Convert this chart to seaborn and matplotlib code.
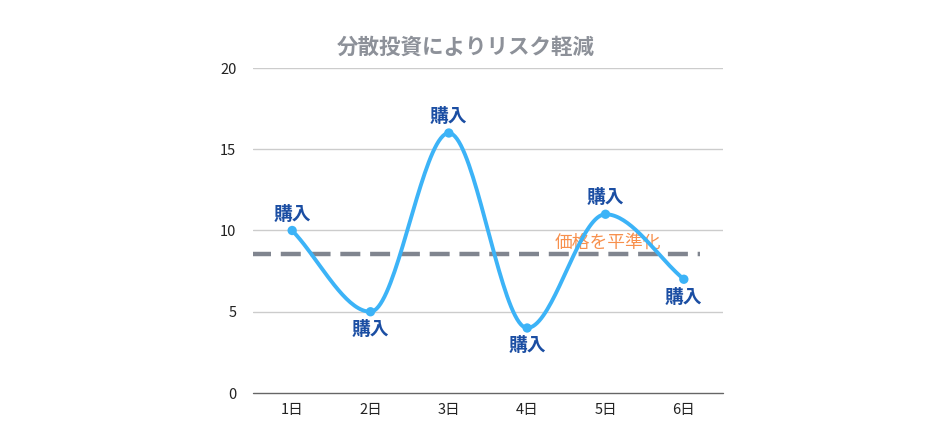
import numpy as np
import matplotlib
matplotlib.use("Agg")
import matplotlib.pyplot as plt
import seaborn as sns

# data
days = ["1日", "2日", "3日", "4日", "5日", "6日"]
prices = [10, 5, 16, 4, 11, 7]
point_labels = ["購入", "購入", "購入", "購入", "購入", "購入"]
label_above = [True, False, True, False, True, False]
avg_level = 8.55
avg_label = "価格を平準化"
title = "分散投資によりリスク軽減"
y_ticks = [0, 5, 10, 15, 20]


def monotone_curve(y, steps=40):
    """Monotone cubic (Fritsch-Carlson) interpolation over category positions."""
    y = np.asarray(y, dtype=float)
    x = np.arange(len(y), dtype=float)
    d = np.diff(y)
    m = np.zeros_like(y)
    m[0], m[-1] = d[0], d[-1]
    for i in range(1, len(y) - 1):
        m[i] = 0.0 if d[i - 1] * d[i] <= 0 else (d[i - 1] + d[i]) / 2
    for i in range(len(d)):
        if d[i] == 0:
            m[i] = m[i + 1] = 0
            continue
        a, b = m[i] / d[i], m[i + 1] / d[i]
        s = a * a + b * b
        if s > 9:
            t = 3 / np.sqrt(s)
            m[i], m[i + 1] = t * a * d[i], t * b * d[i]
    xs, ys = [], []
    for i in range(len(d)):
        t = np.linspace(0, 1, steps)
        h00 = 2 * t**3 - 3 * t**2 + 1
        h10 = t**3 - 2 * t**2 + t
        h01 = -2 * t**3 + 3 * t**2
        h11 = t**3 - t**2
        xs.append(x[i] + t)
        ys.append(h00 * y[i] + h10 * m[i] + h01 * y[i + 1] + h11 * m[i + 1])
    return np.concatenate(xs), np.concatenate(ys)


sns.set_style("white")
plt.rcParams["font.family"] = ["Noto Sans CJK JP", "DejaVu Sans"]

fig = plt.figure(figsize=(9.5, 4.44), dpi=100)
ax = fig.add_axes([253 / 950, 51 / 444, 470 / 950, 325 / 444])

# grid
for v in y_ticks[1:]:
    ax.axhline(v, color="#cccccc", lw=1, zorder=0)
ax.axhline(0, color="#666666", lw=1, zorder=1, clip_on=False)

# average dashed line
ax.hlines(avg_level, -0.52, 5.2, colors="#80858f", lw=3.2,
          linestyles=(0, (4.5, 2.2)), zorder=2)
ax.text(4.03, avg_level + 0.12, avg_label, color="#f7904d", fontsize=12.8,
        ha="center", va="bottom", zorder=3)

# smooth price curve
cx, cy = monotone_curve(prices)
ax.plot(cx, cy, color="#3cb3f7", lw=2.8, solid_capstyle="round", zorder=4)
sns.scatterplot(x=np.arange(len(days)), y=prices, ax=ax, color="#3cb3f7",
                s=45, edgecolor="none", zorder=5, legend=False)

for i, (p, lab, up) in enumerate(zip(prices, point_labels, label_above)):
    ax.annotate(lab, (i, p), xytext=(0, 5 if up else -6), textcoords="offset points",
                ha="center", va="bottom" if up else "top",
                fontsize=13.5, fontweight="bold", color="#1b4ea3", zorder=6)

ax.set_xlim(-0.5, len(days) - 0.5)
ax.set_ylim(0, 20)
ax.set_xticks(range(len(days)))
ax.set_xticklabels(days)
ax.set_yticks(y_ticks)
ax.tick_params(axis="both", length=0, labelsize=10.5, colors="#222222")
ax.tick_params(axis="x", pad=7)
ax.tick_params(axis="y", pad=12)
for s in ax.spines.values():
    s.set_visible(False)

fig.text(466 / 950, 1 - 47 / 444, title, ha="center", va="center",
         fontsize=15.5, fontweight="bold", color="#8d9199")

fig.savefig("out.png", dpi=100)
